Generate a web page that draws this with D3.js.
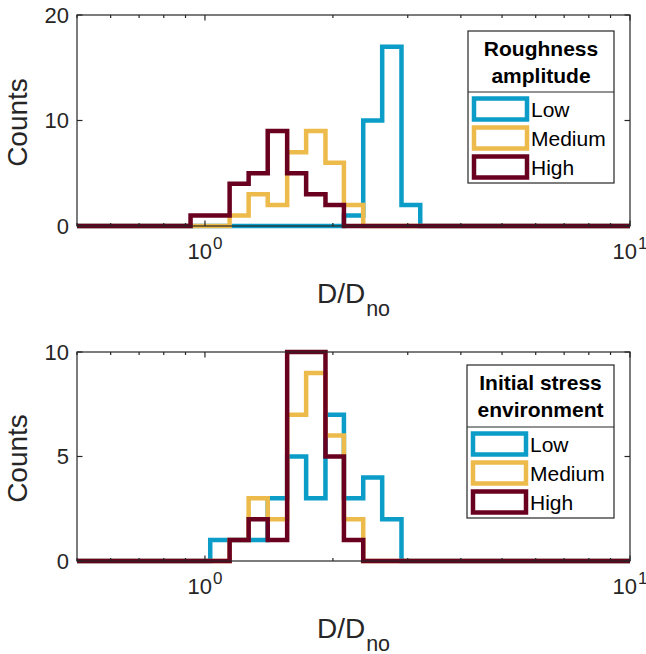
<!DOCTYPE html>
<html><head><meta charset="utf-8">
<script src="https://cdn.jsdelivr.net/npm/d3@7"></script>
<style>body{margin:0;background:#fff}svg{display:block}</style>
</head><body><svg id="c" width="646" height="654"></svg>
<script>
// ---------------- data ----------------
const categories = ["Low", "Medium", "High"];
const binEdges = [0.925, 1.029, 1.143, 1.267, 1.405, 1.561, 1.730, 1.921, 2.123, 2.357, 2.612, 2.900, 3.210];
const roughLow    = [0, 0, 0, 0, 0, 0, 0, 0, 1, 10, 17, 2];
const roughMedium = [0, 0, 1, 3, 2, 7, 9, 6, 2, 0, 0, 0];
const roughHigh   = [1, 1, 4, 5, 9, 5, 3, 2, 0, 0, 0, 0];
const stressLow    = [0, 1, 1, 1, 3, 5, 3, 7, 3, 4, 2, 0];
const stressMedium = [0, 0, 1, 3, 2, 7, 9, 6, 2, 0, 0, 0];
const stressHigh   = [0, 0, 1, 2, 1, 10, 10, 5, 1, 0, 0, 0];
const xDomain = [0.5, 10];
const xMajorTicks = [1, 10];
const xMajorExponents = ["0", "1"];
const xMinorTicks = [0.5, 0.6, 0.7, 0.8, 0.9, 2, 3, 4, 5, 6, 7, 8, 9];
const topYTicks = [0, 10, 20];
const bottomYTicks = [0, 5, 10];
const topLegendTitle = ["Roughness", "amplitude"];
const bottomLegendTitle = ["Initial stress", "environment"];
const xLabelMain = "D/D";
const xLabelSub = "no";
const yLabelText = "Counts";

// ---------------- style / layout ----------------
const colors = ["#0b9dc7", "#edbb4b", "#6a0020"];
const axisColor = "#262626";
const FONT = "'Liberation Sans', Arial, Helvetica, sans-serif";
const LW = 4.5;
const left = 77, right = 630;

const panels = [
  { top: 15, bottom: 226, yMax: 20, yTicks: topYTicks,
    series: [roughLow, roughMedium, roughHigh], title: topLegendTitle,
    lg: { x: 468, y: 31, w: 146, h: 152, div: 61 } },
  { top: 352, bottom: 561, yMax: 10, yTicks: bottomYTicks,
    series: [stressLow, stressMedium, stressHigh], title: bottomLegendTitle,
    lg: { x: 467, y: 365, w: 147, h: 153, div: 62 } }
];

const svg = d3.select("#c");
const x = d3.scaleLog().domain(xDomain).range([left, right]);

panels.forEach(p => {
  const y = d3.scaleLinear().domain([0, p.yMax]).range([p.bottom, p.top]);
  const g = svg.append("g");

  // stairs histograms
  p.series.forEach((counts, si) => {
    const pts = [[xDomain[0], 0], [binEdges[0], 0]];
    counts.forEach((c, i) => {
      pts.push([binEdges[i], c]);
      pts.push([binEdges[i + 1], c]);
    });
    pts.push([binEdges[binEdges.length - 1], 0]);
    pts.push([xDomain[1], 0]);
    const line = d3.line().x(d => x(d[0])).y(d => y(d[1]));
    g.append("path").attr("d", line(pts))
      .attr("fill", "none").attr("stroke", colors[si])
      .attr("stroke-width", LW).attr("stroke-linejoin", "miter");
  });

  // axes box
  g.append("rect").attr("x", left).attr("y", p.top)
    .attr("width", right - left).attr("height", p.bottom - p.top)
    .attr("fill", "none").attr("stroke", axisColor).attr("stroke-width", 1.2);

  // x ticks
  const tk = (v, len) => {
    g.append("line").attr("x1", x(v)).attr("x2", x(v))
      .attr("y1", p.bottom).attr("y2", p.bottom - len)
      .attr("stroke", axisColor).attr("stroke-width", 1.2);
    g.append("line").attr("x1", x(v)).attr("x2", x(v))
      .attr("y1", p.top).attr("y2", p.top + len)
      .attr("stroke", axisColor).attr("stroke-width", 1.2);
  };
  xMajorTicks.forEach(v => tk(v, 5.5));
  xMinorTicks.forEach(v => tk(v, 3));

  xMajorTicks.forEach((v, i) => {
    const t = g.append("text").attr("x", x(v)).attr("y", p.bottom + 33)
      .attr("text-anchor", "middle").attr("font-family", FONT)
      .attr("font-size", 22).attr("fill", axisColor);
    t.append("tspan").text("10");
    t.append("tspan").attr("dx", 1).attr("dy", -10.5).attr("font-size", 17).text(xMajorExponents[i]);
  });

  // y ticks
  p.yTicks.forEach(v => {
    g.append("line").attr("x1", left).attr("x2", left + 5.5)
      .attr("y1", y(v)).attr("y2", y(v)).attr("stroke", axisColor).attr("stroke-width", 1.2);
    g.append("line").attr("x1", right).attr("x2", right - 5.5)
      .attr("y1", y(v)).attr("y2", y(v)).attr("stroke", axisColor).attr("stroke-width", 1.2);
    g.append("text").attr("x", left - 8).attr("y", y(v)).attr("dy", "0.36em")
      .attr("text-anchor", "end").attr("font-family", FONT)
      .attr("font-size", 22).attr("fill", axisColor).text(v);
  });

  // axis labels
  const xl = g.append("text").attr("x", (left + right) / 2).attr("y", p.bottom + 77)
    .attr("text-anchor", "middle").attr("font-family", FONT)
    .attr("font-size", 28).attr("fill", axisColor);
  xl.append("tspan").text(xLabelMain);
  xl.append("tspan").attr("dx", 1).attr("dy", 12.5).attr("font-size", 21.5).text(xLabelSub);

  g.append("text").attr("transform", `translate(27,${(p.top + p.bottom) / 2 + 2}) rotate(-90)`)
    .attr("text-anchor", "middle").attr("font-family", FONT)
    .attr("font-size", 28).attr("fill", axisColor).text(yLabelText);

  // legend
  const L = p.lg;
  const lg = g.append("g");
  lg.append("rect").attr("x", L.x).attr("y", L.y).attr("width", L.w).attr("height", L.h)
    .attr("fill", "#fff").attr("stroke", axisColor).attr("stroke-width", 1.2);
  lg.append("line").attr("x1", L.x).attr("x2", L.x + L.w)
    .attr("y1", L.y + L.div).attr("y2", L.y + L.div)
    .attr("stroke", axisColor).attr("stroke-width", 1.2);
  p.title.forEach((t, i) => {
    lg.append("text").attr("x", L.x + L.w / 2).attr("y", L.y + 25 + i * 27)
      .attr("text-anchor", "middle").attr("font-family", FONT)
      .attr("font-weight", "bold").attr("font-size", 21).attr("fill", "#000").text(t);
  });
  categories.forEach((c, i) => {
    const cy = L.y + L.div + 17 + i * 29;
    lg.append("rect").attr("x", L.x + 6).attr("y", cy - 10.5)
      .attr("width", 53).attr("height", 21)
      .attr("fill", "#fff").attr("stroke", colors[i]).attr("stroke-width", LW);
    lg.append("text").attr("x", L.x + 63).attr("y", cy).attr("dy", "0.36em")
      .attr("font-family", FONT).attr("font-size", 21).attr("fill", "#000").text(c);
  });
});
</script>
</body></html>
